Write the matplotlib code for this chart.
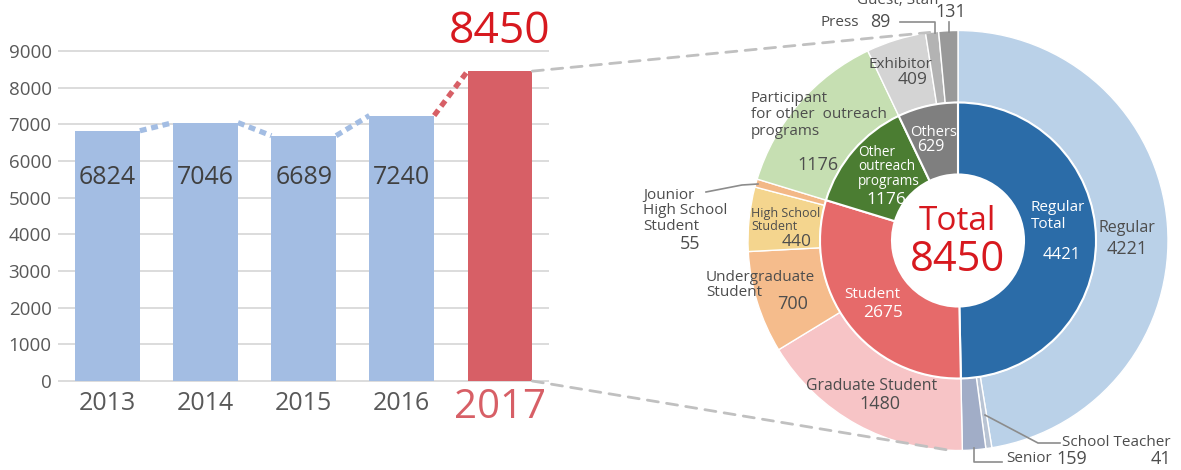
import matplotlib
matplotlib.use("Agg")
import matplotlib.pyplot as plt
from matplotlib.patches import ConnectionPatch
import numpy as np

plt.rcParams['font.family'] = ['Open Sans', 'DejaVu Sans']

# ---------------- data ----------------
years = ['2013', '2014', '2015', '2016', '2017']
participants = [6824, 7046, 6689, 7240, 8450]

inner_labels = ['Regular\nTotal', 'Student', 'Other\noutreach\nprograms', 'Others']
inner_values = [4421, 2675, 1176, 629]

outer_labels = ['Regular', 'School Teacher', 'Senior', 'Graduate Student',
                'Undergraduate\nStudent', 'High School\nStudent',
                'Jounior\nHigh School\nStudent',
                'Participant\nfor other  outreach\nprograms',
                'Exhibitor', 'Press', 'Guest, Staff']
outer_values = [4221, 41, 159, 1480, 700, 440, 55, 1176, 409, 89, 131]
total_label = 'Total'
total_value = 8450

# ---------------- style ----------------
BLUE_BAR = '#a3bde3'
RED_BAR = '#d75f66'
RED_TXT = '#d7191f'
GREY_TXT = '#4d4d4d'
TICK_TXT = '#595959'
LEAD = '#8c8c8c'

inner_colors = ['#2b6ca8', '#e66a6a', '#4b7d32', '#7f7f7f']
outer_colors = ['#bad1e8', '#b9c4d4', '#a1adc7', '#f7c4c6', '#f5bc8c',
                '#f4d58e', '#f3b887', '#c6dfb2', '#d4d4d4', '#b3b3b3', '#999999']

W, H = 1181, 470
fig = plt.figure(figsize=(W / 100, H / 100), dpi=100)

# ---------------- bar chart ----------------
px_per_k = 36.67
y_lo, y_hi = -50, 9050
ax_h = (y_hi - y_lo) / 1000 * px_per_k
ax_bottom_px = 381 + 50 / 1000 * px_per_k
ax1 = fig.add_axes([58.45 / W, (H - ax_bottom_px) / H, 490.5 / W, ax_h / H])
bw = 0.66
xs = np.arange(len(years))
bar_colors = [BLUE_BAR] * (len(years) - 1) + [RED_BAR]
ax1.bar(xs, participants, width=bw, color=bar_colors, zorder=2)
ax1.set_xlim(-0.5, 4.5)
ax1.set_ylim(y_lo, y_hi)
ax1.set_yticks(range(0, 9001, 1000))
ax1.set_yticklabels([str(v) for v in range(0, 9001, 1000)], fontsize=13.5, color=TICK_TXT)
ax1.tick_params(axis='y', length=0, pad=5)
ax1.set_xticks([])
ax1.yaxis.grid(True, color='#d9d9d9', lw=1.3, zorder=0)
ax1.set_axisbelow(True)
for s in ax1.spines.values():
    s.set_visible(False)

for i in range(len(years) - 1):
    ax1.text(xs[i], 5560, str(participants[i]), ha='center', va='center',
             fontsize=18, color='#404040', zorder=4)
    ax1.text(xs[i], -600, years[i], ha='center', va='center', fontsize=18,
             color=TICK_TXT, clip_on=False)
ax1.text(xs[-1], 9520, str(participants[-1]), ha='center', va='center',
         fontsize=32, color=RED_TXT, clip_on=False)
ax1.text(xs[-1], -720, years[-1], ha='center', va='center', fontsize=29,
         color=RED_BAR, clip_on=False)

for i in range(len(years) - 1):
    c = BLUE_BAR if i < len(years) - 2 else RED_BAR
    ax1.plot([xs[i] + bw / 2, xs[i + 1] - bw / 2],
             [participants[i], participants[i + 1]],
             color=c, lw=3.8, linestyle=(0, (1.3, 0.9)),
             dash_capstyle='butt', zorder=3, clip_on=False)

# ---------------- donut ----------------
CX, CY = 958, 240.5
ax2 = fig.add_axes([600 / W, 0, (W - 600) / W, 1])
R_out, R_mid, R_in = 210, 138, 66
ax2.pie(outer_values, radius=R_out, startangle=90, counterclock=False,
        colors=outer_colors,
        wedgeprops=dict(width=R_out - R_mid, edgecolor='white', linewidth=1.0))
ax2.pie(inner_values, radius=R_mid, startangle=90, counterclock=False,
        colors=inner_colors,
        wedgeprops=dict(width=R_mid - R_in, edgecolor='white', linewidth=1.5))
ax2.set_aspect('auto')
ax2.set_xlim(600 - CX, W - CX)
ax2.set_ylim(CY - H, CY)
ax2.axis('off')


def T(X, Y, s, **kw):
    kw.setdefault('ha', 'center')
    kw.setdefault('va', 'center')
    kw.setdefault('color', GREY_TXT)
    ax2.text(X - CX, CY - Y, s, clip_on=False, **kw)


def L(pts):
    pts = np.array(pts, dtype=float)
    ax2.plot(pts[:, 0] - CX, CY - pts[:, 1], color=LEAD, lw=1.2, clip_on=False)


# outer ring labels
T(1127, 228, outer_labels[0], fontsize=11.5)
T(1127, 249, str(outer_values[0]), fontsize=13)
T(1116, 442, outer_labels[1], fontsize=11)
T(1161, 459, str(outer_values[1]), fontsize=13)
T(1029, 459, outer_labels[2], fontsize=11)
T(1072, 459, str(outer_values[2]), fontsize=13)
T(872, 386, outer_labels[3], fontsize=11.3)
T(880, 404, str(outer_values[3]), fontsize=13)
T(706, 285, outer_labels[4], fontsize=11, ha='left', linespacing=1.05)
T(793, 304, str(outer_values[4]), fontsize=13)
T(751, 220, outer_labels[5], fontsize=9, ha='left', linespacing=1.0)
T(797, 242, str(outer_values[5]), fontsize=12.5)
T(643, 211, outer_labels[6], fontsize=11, ha='left', linespacing=1.0)
T(690, 244, str(outer_values[6]), fontsize=13)
T(751, 115, outer_labels[7], fontsize=11, ha='left', linespacing=1.15)
T(818, 165, str(outer_values[7]), fontsize=13)
T(900, 64, outer_labels[8], fontsize=11)
T(913, 80, str(outer_values[8]), fontsize=12.5)
T(840, 22, outer_labels[9], fontsize=11)
T(880, 22, str(outer_values[9]), fontsize=13)
T(898, 0, outer_labels[10], fontsize=11)
T(951, 12, str(outer_values[10]), fontsize=13)

# inner ring labels
T(1031, 216, inner_labels[0], fontsize=11, ha='left', color='white', linespacing=1.1)
T(1062, 255, str(inner_values[0]), fontsize=12, color='white')
T(872, 294, inner_labels[1], fontsize=11, color='white')
T(883, 313, str(inner_values[1]), fontsize=12.5, color='white')
T(858, 167, inner_labels[2], fontsize=9.8, ha='left', color='white', linespacing=0.95)
T(886, 200, str(inner_values[2]), fontsize=12.5, color='white')
T(934, 132, inner_labels[3], fontsize=10.5, color='white')
T(931, 147, str(inner_values[3]), fontsize=11.5, color='white')

# centre
T(957, 221, total_label, fontsize=24, color=RED_TXT)
T(957, 260, str(total_value), fontsize=30, color=RED_TXT)

# leader lines
L([(900, 22), (935, 22), (935, 33)])
L([(949, 22), (949, 32)])
L([(706, 192), (742, 185), (758, 184)])
L([(985, 415), (1038, 443), (1060, 443)])
L([(974, 448), (974, 462), (1002, 462)])

# dashed connectors from 2017 bar to the donut
for yv, ang in [(participants[-1], 97.7), (0, 267.8)]:
    a = np.deg2rad(ang)
    cp = ConnectionPatch(xyA=(xs[-1] + bw / 2, yv), coordsA=ax1.transData,
                         xyB=(R_out * np.cos(a), R_out * np.sin(a)), coordsB=ax2.transData,
                         color='#c0c0c0', lw=2, linestyle=(0, (4, 3)))
    fig.add_artist(cp)

fig.savefig('out.png', dpi=100)
